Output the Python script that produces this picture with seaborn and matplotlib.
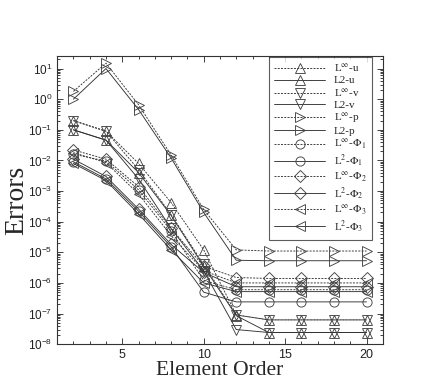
import numpy as np
import pandas as pd
import matplotlib
matplotlib.use("Agg")
import matplotlib.pyplot as plt
import matplotlib.ticker as mticker
import seaborn as sns

# ---- data ----
order = [2, 4, 6, 8, 10, 12, 14, 16, 18, 20]

linf_u = [0.2, 0.09, 8e-3, 4.2e-4, 1.2e-5, 9e-8, 6.2e-8, 6.2e-8, 6.2e-8, 6.2e-8]
l2_u = [0.1, 0.046, 4e-3, 1.6e-4, 3.5e-6, 8.5e-8, 2.4e-8, 2.4e-8, 2.4e-8, 2.4e-8]
linf_v = [0.2, 0.09, 5e-3, 1.7e-4, 4e-6, 9e-8, 6.2e-8, 6.2e-8, 6.2e-8, 6.2e-8]
l2_v = [0.1, 0.046, 2.5e-3, 6e-5, 2.5e-6, 3e-8, 2.4e-8, 2.4e-8, 2.4e-8, 2.4e-8]
linf_p = [1.8, 15, 0.66, 0.015, 2.5e-4, 1.2e-5, 1.1e-5, 1.1e-5, 1.1e-5, 1.1e-5]
l2_p = [1.0, 10, 0.46, 0.012, 2.0e-4, 5.5e-6, 5.3e-6, 5.3e-6, 5.3e-6, 5.3e-6]
linf_phi1 = [0.016, 0.0095, 1.1e-3, 5e-5, 1.2e-6, 6e-7, 6e-7, 6e-7, 6e-7, 6e-7]
l2_phi1 = [0.009, 0.0025, 2.2e-4, 1.5e-5, 5e-7, 2.4e-7, 2.4e-7, 2.4e-7, 2.4e-7, 2.4e-7]
linf_phi2 = [0.022, 0.011, 1.4e-3, 6e-5, 3.5e-6, 1.5e-6, 1.4e-6, 1.4e-6, 1.4e-6, 1.4e-6]
l2_phi2 = [0.011, 0.003, 2.6e-4, 1.8e-5, 2.2e-6, 7.5e-7, 7.5e-7, 7.5e-7, 7.5e-7, 7.5e-7]
linf_phi3 = [0.018, 0.0085, 8e-4, 3.5e-5, 2.5e-6, 1.0e-6, 1.0e-6, 1.0e-6, 1.0e-6, 1.0e-6]
l2_phi3 = [0.008, 0.0022, 1.8e-4, 1.2e-5, 1.0e-6, 5.2e-7, 5.2e-7, 5.2e-7, 5.2e-7, 5.2e-7]

labels = [r"L$^{\infty}$-u", "L2-u", r"L$^{\infty}$-v", "L2-v",
          r"L$^{\infty}$-p", "L2-p",
          r"L$^{\infty}$-$\Phi_1$", r"L$^{2}$-$\Phi_1$",
          r"L$^{\infty}$-$\Phi_2$", r"L$^{2}$-$\Phi_2$",
          r"L$^{\infty}$-$\Phi_3$", r"L$^{2}$-$\Phi_3$"]
series = [linf_u, l2_u, linf_v, l2_v, linf_p, l2_p,
          linf_phi1, l2_phi1, linf_phi2, l2_phi2, linf_phi3, l2_phi3]
markers = ["^", "^", "v", "v", ">", ">", "o", "o", "D", "D", "<", "<"]

# ---- style ----
sns.set_style("ticks")
plt.rcParams["font.family"] = ["Liberation Sans", "DejaVu Sans"]
plt.rcParams["mathtext.fontset"] = "stix"
plt.rcParams["xtick.direction"] = "in"
plt.rcParams["ytick.direction"] = "in"

fig = plt.figure(figsize=(4.36, 3.88), dpi=100)
ax = fig.add_axes([0.131, 0.113, 0.747, 0.743])

for i, (lab, vals, mk) in enumerate(zip(labels, series, markers)):
    dashed = (i % 2 == 0)
    ms = {"D": 5.8, "o": 6.6}.get(mk, 7.0)
    sns.lineplot(x=order, y=vals, ax=ax, label=lab,
                 color="#333333", linewidth=0.65,
                 linestyle=(0, (2.2, 1.4)) if dashed else "-",
                 marker=mk, markersize=ms, markerfacecolor="none",
                 markeredgecolor="#444444", markeredgewidth=0.65,
                 errorbar=None)

ax.set_yscale("log")
ax.set_xlim(1, 21)
ax.set_ylim(1e-8, 26)
ax.xaxis.set_major_locator(mticker.FixedLocator([5, 10, 15, 20]))
ax.xaxis.set_minor_locator(mticker.MultipleLocator(1))
ax.yaxis.set_major_locator(mticker.LogLocator(base=10, numticks=20))
ax.yaxis.set_minor_locator(mticker.LogLocator(base=10, subs=np.arange(2, 10), numticks=20))
ax.yaxis.set_minor_formatter(mticker.NullFormatter())

ax.tick_params(which="both", direction="in", top=True, right=True,
               width=0.6, colors="#222222", labelsize=9)
ax.tick_params(which="major", length=4.5)
ax.tick_params(which="minor", length=2.2)
for t in ax.get_yticklabels():
    t.set_fontsize(8.5)
for sp in ax.spines.values():
    sp.set_linewidth(0.8)
    sp.set_color("#333333")

ax.set_xlabel("Element Order", family="Liberation Serif", fontsize=15.5, labelpad=0)
ax.set_ylabel("Errors", family="Liberation Serif", fontsize=20, labelpad=-1)

leg = ax.legend(loc="upper right", bbox_to_anchor=(0.966, 0.995),
                bbox_transform=ax.transAxes, borderaxespad=0,
                prop={"family": ["Liberation Serif"], "size": 8},
                frameon=True, fancybox=False, edgecolor="#333333",
                handlelength=4.6, labelspacing=0.12, handletextpad=0.8,
                borderpad=0.45)
leg.get_frame().set_linewidth(0.8)

fig.savefig("out.png", dpi=100)
